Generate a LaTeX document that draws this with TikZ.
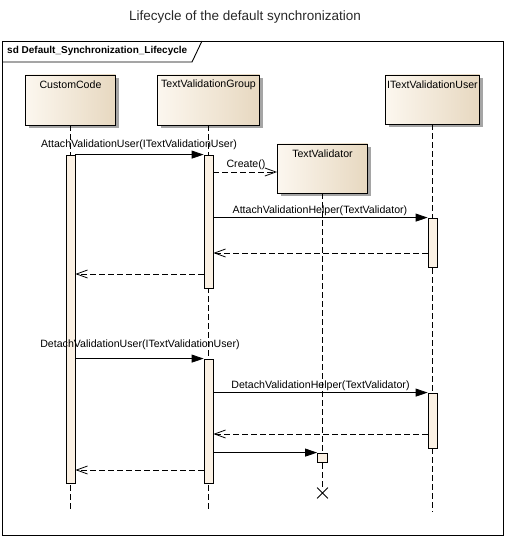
\documentclass[tikz,border=0pt]{standalone}
\usepackage{fontspec}
\setmainfont{Liberation Sans}
\usetikzlibrary{arrows.meta,shadows,calc,shapes.misc}
\definecolor{boxL}{RGB}{252,247,239}
\definecolor{boxR}{RGB}{231,216,192}
\definecolor{actfill}{RGB}{251,241,228}
\definecolor{shadowgray}{RGB}{165,165,165}
\definecolor{titlegray}{RGB}{40,40,40}
\tikzset{
  lifebox/.style={draw=black, line width=0.9pt, inner sep=0pt, left color=boxL, right color=boxR,
    drop shadow={shadow xshift=3pt, shadow yshift=-3pt, fill=shadowgray, opacity=1}},
  boxtext/.style={font=\fontsize{10.6}{12}\selectfont, inner sep=0pt},
  msgtext/.style={font=\fontsize{10.6}{12}\selectfont, inner sep=0pt},
  lifeline/.style={draw=black, line width=0.8pt, dash pattern=on 6pt off 3pt},
  actbar/.style={draw=black, line width=0.8pt, fill=actfill, minimum width=9pt, inner sep=0pt},
  callmsg/.style={draw=black, line width=0.8pt, -{Triangle[length=12pt,width=8pt]}},
  retmsg/.style={draw=black, line width=0.8pt, dash pattern=on 6pt off 3pt, -{Straight Barb[length=11pt,width=8pt]}},
  framebox/.style={draw=black, line width=0.9pt, inner sep=0pt},
}
\begin{document}
\begin{tikzpicture}[x=1pt,y=-1pt]
\useasboundingbox (0,0) rectangle (506,537);
% title
\node[font=\fontsize{13.5}{16}\selectfont, text=titlegray, inner sep=0pt] (title) at (245,17) {Lifecycle of the default synchronization};
% frame
\node[framebox, anchor=north west, minimum width=501pt, minimum height=494pt] (frame) at (2,41) {};
\coordinate (tabA) at ($(frame.north west)+(0,21)$);
\coordinate (tabB) at ($(frame.north west)+(190,21)$);
\coordinate (tabC) at ($(frame.north west)+(200,0)$);
\draw[line width=0.9pt] (tabA) -- (tabB) -- (tabC);
\node[font=\bfseries\fontsize{10}{12}\selectfont, inner sep=0pt, anchor=west] (sdlabel) at (7,51) {sd Default\_Synchronization\_Lifecycle};

% lifeline heads
\node[lifebox, minimum width=90pt, minimum height=50pt] (cc) at (70.5,100) {};
\node[boxtext] (cct) at ($(cc.north)+(0,10)$) {CustomCode};
\node[lifebox, minimum width=102pt, minimum height=50pt] (tvg) at (208.5,100) {};
\node[boxtext] (tvgt) at ($(tvg.north)+(0,10)$) {TextValidationGroup};
\node[lifebox, minimum width=94pt, minimum height=49pt] (itvu) at (432.5,99.5) {};
\node[boxtext] (itvut) at ($(itvu.north)+(0,10)$) {ITextValidationUser};
\node[lifebox, minimum width=90pt, minimum height=49pt] (tv) at (322.5,168.5) {};
\node[boxtext] (tvt) at ($(tv.north)+(0,10)$) {TextValidator};

% lifeline ends
\coordinate (ccEnd) at (70.5,512);
\coordinate (tvgEnd) at (208.5,512);
\coordinate (itvuEnd) at (432.5,512);
\node[cross out, draw=black, line width=0.8pt, minimum size=10pt, inner sep=0pt] (tvX) at (322.5,493) {};

\draw[lifeline] (cc.south) -- (ccEnd);
\draw[lifeline] (tvg.south) -- (tvgEnd);
\draw[lifeline] (itvu.south) -- (itvuEnd);
\draw[lifeline] (tv.south) -- (tvX.north);

% activation bars
\node[actbar, minimum height=328pt] (ccA) at (70.5,319) {};
\node[actbar, minimum height=133pt] (tvgA1) at (208.5,221.5) {};
\node[actbar, minimum height=124pt] (tvgA2) at (208.5,421) {};
\node[actbar, minimum height=49pt] (itvuA1) at (432.5,242.5) {};
\node[actbar, minimum height=55pt] (itvuA2) at (432.5,420.5) {};
\node[actbar, minimum width=10pt, minimum height=9pt] (tvA) at (322.5,457.5) {};

% message rows
\coordinate (crt) at ($(tv.west)+(0,3.5)$);
\coordinate (r1) at (0,253);
\coordinate (r2) at (0,274);
\coordinate (r3) at (0,434);
\coordinate (r4) at (0,470);

\draw[callmsg] (ccA.north east) -- (tvgA1.north west);
\draw[retmsg] (tvgA1.east |- crt) -- (crt);
\draw[callmsg] (tvgA1.east |- itvuA1.north) -- (itvuA1.north west);
\draw[retmsg] (itvuA1.west |- r1) -- (tvgA1.east |- r1);
\draw[retmsg] (tvgA1.west |- r2) -- (ccA.east |- r2);
\draw[callmsg] (ccA.east |- tvgA2.north) -- (tvgA2.north west);
\draw[callmsg] (tvgA2.east |- itvuA2.north) -- (itvuA2.north west);
\draw[retmsg] (itvuA2.west |- r3) -- (tvgA2.east |- r3);
\draw[callmsg] (tvgA2.east |- tvA.north west) -- (tvA.north west);
\draw[retmsg] (tvgA2.west |- r4) -- (ccA.east |- r4);

% labels
\node[msgtext] (l1) at (139,145) {AttachValidationUser(ITextValidationUser)};
\node[msgtext] (l2) at (246,165) {Create()};
\node[msgtext] (l3) at (320,211) {AttachValidationHelper(TextValidator)};
\node[msgtext] (l4) at (140,345) {DetachValidationUser(ITextValidationUser)};
\node[msgtext] (l5) at (320.5,386) {DetachValidationHelper(TextValidator)};
\end{tikzpicture}
\end{document}
